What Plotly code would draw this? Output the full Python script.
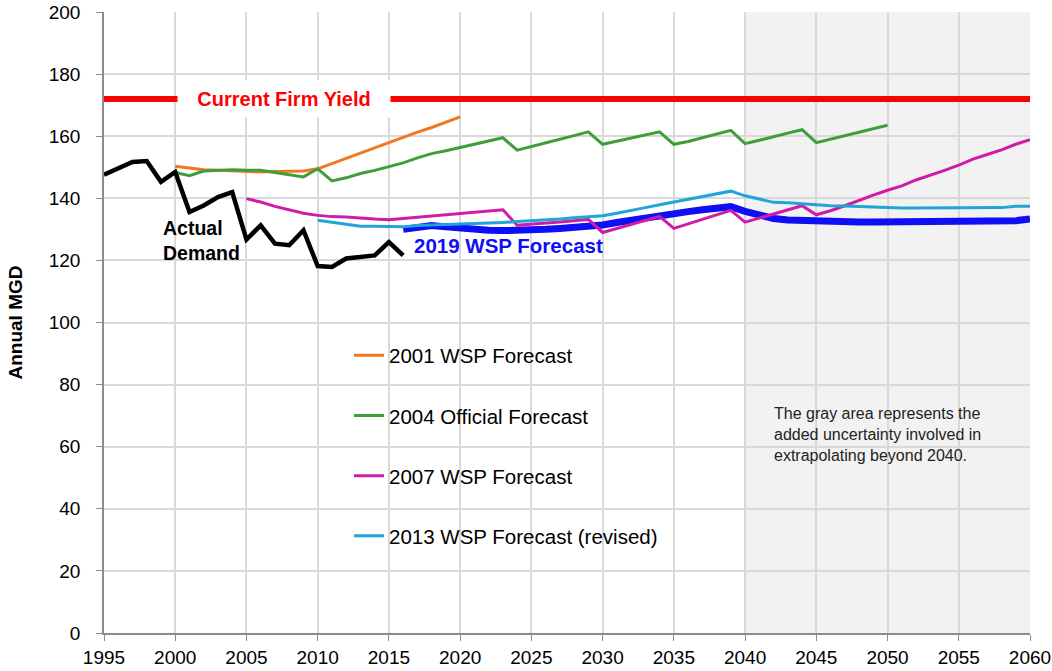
import plotly.graph_objects as go

# --- data (annual MGD) ---
firm_yield = 172

actual_years = list(range(1995, 2017))
actual = [147.6, 149.8, 151.7, 152.0, 145.3, 148.5, 135.6, 137.7, 140.4, 142.0, 126.7,
          131.3, 125.4, 124.9, 129.7, 118.2, 117.9, 120.6, 121.1, 121.6, 125.9, 121.6]

wsp2001_years = list(range(2000, 2021))
wsp2001 = [150.3, 149.8, 149.2, 149.0, 148.8, 148.5, 148.5, 148.6, 148.7, 148.8, 149.5,
           151.2, 152.9, 154.6, 156.3, 158.0, 159.7, 161.3, 162.8, 164.5, 166.2]

off2004_years = list(range(2000, 2051))
off2004 = [148.3, 147.3, 148.8, 149.1, 149.2, 149.0, 149.0, 148.3, 147.6, 146.9, 149.5,
           145.6, 146.6, 148.0, 149.0, 150.2, 151.4, 153.0, 154.4, 155.3, 156.3,
           157.3, 158.4, 159.5, 155.5, 156.6, 157.8, 159.0, 160.2, 161.4, 157.4,
           158.4, 159.4, 160.3, 161.4, 157.4, 158.3, 159.5, 160.7, 161.9, 157.6,
           158.6, 159.8, 161.0, 162.1, 157.9, 159.0, 160.2, 161.3, 162.4, 163.5]

wsp2007_years = list(range(2005, 2061))
wsp2007 = [139.9, 138.8, 137.4, 136.3, 135.2, 134.5, 134.1, 134.0, 133.6, 133.3, 133.1,
           133.5, 134.0, 134.4, 134.8, 135.2, 135.6, 136.0, 136.3, 131.3, 131.6,
           132.0, 132.4, 132.8, 133.2, 129.0, 130.3, 131.6, 132.9, 134.2, 130.3,
           131.7, 133.2, 134.6, 136.1, 132.3, 133.6, 134.9, 136.2, 137.6, 134.7,
           136.0, 137.6, 139.4, 141.0, 142.6, 144.0, 145.9, 147.4, 149.0, 150.7,
           152.6, 154.1, 155.6, 157.4, 158.9]

wsp2013_years = list(range(2010, 2061))
wsp2013 = [132.9, 132.3, 131.6, 131.0, 131.0, 130.9, 130.8, 131.2, 131.5, 131.6, 131.7,
           131.8, 132.0, 132.2, 132.5, 132.7, 133.0, 133.3, 133.7, 134.0, 134.4,
           135.2, 136.0, 137.0, 137.9, 138.8, 139.6, 140.5, 141.4, 142.3, 140.8,
           139.8, 138.7, 138.6, 138.2, 137.8, 137.6, 137.5, 137.3, 137.1, 137.0,
           136.9, 136.9, 136.9, 136.9, 136.9, 136.9, 136.9, 137.0, 137.4, 137.4]

wsp2019_years = list(range(2016, 2061))
wsp2019 = [130.0, 130.7, 131.2, 130.8, 130.3, 129.9, 129.7, 129.6, 129.6, 129.7,
           130.0, 130.3, 130.6, 131.0, 131.4, 132.2, 133.0, 133.8, 134.6, 135.2,
           135.7, 136.3, 136.8, 137.3, 135.8, 134.5, 133.5, 133.0, 132.8, 132.7,
           132.6, 132.4, 132.4, 132.4, 132.4, 132.4, 132.4, 132.4, 132.4, 132.4,
           132.4, 132.4, 132.4, 132.8, 133.3]

font = "Arial, Liberation Sans, sans-serif"

fig = go.Figure()

# firm yield line
fig.add_trace(go.Scatter(x=[1995, 2060], y=[firm_yield, firm_yield], mode="lines",
                         line=dict(color="#ff0000", width=6), showlegend=False))

# 2019 forecast (thick blue, drawn underneath the older forecasts)
fig.add_trace(go.Scatter(x=wsp2019_years, y=wsp2019, mode="lines",
                         line=dict(color="#0f0ff5", width=7), showlegend=False))

forecasts = [
    ("2001 WSP Forecast", wsp2001_years, wsp2001, "#f07820"),
    ("2004 Official Forecast", off2004_years, off2004, "#3f9e3a"),
    ("2007 WSP Forecast", wsp2007_years, wsp2007, "#d11ba8"),
    ("2013 WSP Forecast (revised)", wsp2013_years, wsp2013, "#1fa5d6"),
]
for name, xs, ys, col in forecasts:
    fig.add_trace(go.Scatter(x=xs, y=ys, mode="lines", name=name, legendgroup=name,
                             line=dict(color=col, width=3)))

fig.add_trace(go.Scatter(x=actual_years, y=actual, mode="lines",
                         line=dict(color="#000000", width=4.5), showlegend=False))

# gray uncertainty zone beyond 2040
fig.add_shape(type="rect", x0=2040, x1=2060, y0=0, y1=200, xref="x", yref="y",
              fillcolor="#f2f2f2", line_width=0, layer="below")

fig.add_annotation(x=2007.6, y=firm_yield, text="<b>Current Firm Yield</b>", showarrow=False,
                   font=dict(color="#ff0000", size=20, family=font),
                   bgcolor="white", width=210, height=34)
fig.add_annotation(x=1999.0, y=126.5, text="<b>Actual<br>Demand</b>", showarrow=False,
                   xanchor="left", align="left", font=dict(color="black", size=19.5, family=font))
fig.add_annotation(x=2016.6, y=124.9, text="<b>2019 WSP Forecast</b>", showarrow=False,
                   xanchor="left", font=dict(color="#0f0ff5", size=20.5, family=font))
fig.add_annotation(x=2041.9, y=64, text="The gray area represents the<br>added uncertainty involved in<br>extrapolating beyond 2040.",
                   showarrow=False, xanchor="left", align="left",
                   font=dict(color="#222222", size=16, family=font))

fig.update_layout(
    width=1052, height=671,
    margin=dict(l=104, r=22, t=12, b=38, autoexpand=False),
    paper_bgcolor="white", plot_bgcolor="white",
    font=dict(family=font, size=19, color="black"),
    legend=dict(x=0.2646, y=0.479, xanchor="left", yanchor="top", bgcolor="rgba(0,0,0,0)",
                tracegroupgap=30.5, traceorder="grouped", font=dict(size=20.5)),
    xaxis=dict(range=[1995, 2060], tick0=1995, dtick=5, showgrid=True, automargin=False,
               gridcolor="#d9d9d9", gridwidth=1.5, showline=True, linecolor="#8c8c8c",
               linewidth=1.5, ticks="outside", ticklen=6, tickcolor="#8c8c8c",
               zeroline=False, tickfont=dict(size=19)),
    yaxis=dict(range=[0, 200], tick0=0, dtick=20, showgrid=True, automargin=False,
               gridcolor="#d9d9d9", gridwidth=1.5, showline=True, linecolor="#8c8c8c",
               linewidth=1.5, ticks="outside", ticklen=6, tickcolor="#8c8c8c",
               zeroline=False, tickfont=dict(size=19), ticklabelstandoff=12,
               title=dict(text="<b>Annual MGD</b>", font=dict(size=19), standoff=21)),
)

# drop the default page margin so the 1052x671 figure fills the window
fig.write_html("out.html", config={"displayModeBar": False},
               post_script="document.body.style.margin='0';")
